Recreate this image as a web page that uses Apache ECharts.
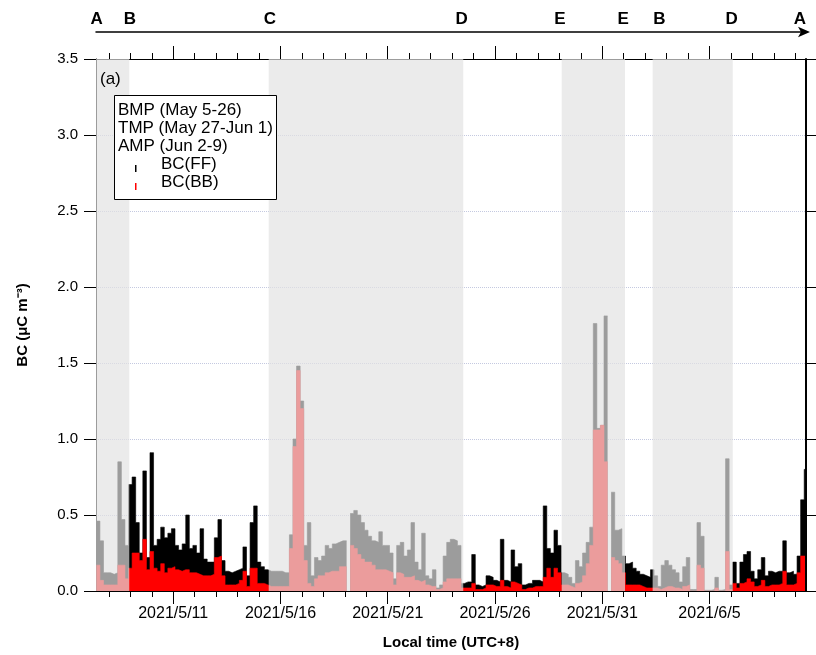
<!DOCTYPE html>
<html><head><meta charset="utf-8">
<script src="https://cdn.jsdelivr.net/npm/echarts@6/dist/echarts.min.js"></script>
<style>html,body{margin:0;padding:0;background:#fff}#c{width:816px;height:655px}</style>
</head><body><div id="c"></div>
<script>
// ---- data (4-hour values, starting 2021-05-07 10:00 local time) ----
const startTime = '2021-05-07T10:00';
const stepHours = 4;
// total BC (FF + BB); the black silhouette
const bcTotal = [
 0.46,0.33,0.12,0.12,0.11,0.12,0.85,0.47,0.30,0.70,
 0.75,0.45,0.25,0.79,0.22,0.91,0.30,0.34,0.42,0.35,
 0.38,0.41,0.30,0.27,0.31,0.50,0.28,0.30,0.25,0.41,
 0.21,0.19,0.19,0.35,0.47,0.20,0.13,0.12,0.13,0.14,
 0.15,0.29,0.10,0.45,0.56,0.19,0.16,0.14,0.13,0.13,
 0.13,0.13,0.12,0.12,0.37,1.00,1.48,1.25,0.30,0.45,
 0.10,0.22,0.20,0.23,0.30,0.28,0.31,0.32,0.33,0.33,
 null,0.51,0.53,0.50,0.45,0.40,0.36,0.33,0.32,0.39,
 0.30,0.30,0.25,0.08,0.30,0.32,0.23,0.27,0.45,0.19,
 0.14,0.38,0.10,0.08,0.14,0.02,0.04,0.23,0.32,0.34,
 0.33,0.30,0.05,0.06,0.06,0.24,0.04,0.03,0.04,0.10,
 0.09,0.07,0.06,0.34,0.07,0.06,0.27,0.16,0.18,0.04,
 0.05,0.05,0.07,0.07,0.06,0.56,0.28,0.25,0.40,0.30,
 0.12,0.11,0.09,0.05,0.20,0.16,0.25,0.32,0.42,1.76,
 1.07,1.09,1.81,null,0.65,0.40,0.41,0.23,0.18,0.19,
 0.15,0.13,0.11,0.10,0.09,0.14,0.10,0.03,0.17,0.20,
 0.17,0.14,0.12,0.06,0.16,0.22,0.01,0.01,0.45,0.36,
 0.005,0.005,0.01,0.09,0.005,0.01,0.87,0.04,0.19,0.05,
 0.19,0.24,0.26,0.13,0.08,0.14,0.22,0.10,0.13,0.12,
 0.13,0.13,0.33,0.12,0.13,0.11,0.23,0.60,0.80,0.80
];
// BC from biomass burning; the red part
const bcBB = [
 0.17,0.07,0.04,0.04,0.04,0.04,0.17,0.17,0.08,0.15,
 0.25,0.25,0.20,0.34,0.14,0.26,0.15,0.13,0.18,0.12,
 0.15,0.16,0.14,0.13,0.14,0.14,0.12,0.12,0.11,0.10,
 0.10,0.10,0.11,0.22,0.23,0.10,0.04,0.04,0.04,0.05,
 0.07,0.13,0.03,0.15,0.15,0.05,0.05,0.04,0.03,0.03,
 0.03,0.03,0.03,0.03,0.28,0.95,1.45,1.20,0.20,0.05,
 0.03,0.08,0.10,0.10,0.12,0.13,0.13,0.13,0.16,0.16,
 null,0.30,0.28,0.24,0.21,0.19,0.19,0.17,0.14,0.14,
 0.14,0.13,0.12,0.04,0.12,0.11,0.09,0.09,0.10,0.07,
 0.06,0.07,0.04,0.03,0.03,0.01,0.02,0.06,0.08,0.08,
 0.08,0.08,0.02,0.02,0.02,0.05,0.01,0.01,0.02,0.04,
 0.04,0.03,0.03,0.07,0.03,0.02,0.06,0.05,0.04,0.01,
 0.02,0.02,0.03,0.03,0.03,0.09,0.15,0.09,0.15,0.12,
 0.04,0.04,0.03,0.02,0.05,0.06,0.10,0.18,0.30,1.06,
 1.06,1.09,0.85,null,0.22,0.20,0.18,0.12,0.04,0.04,
 0.04,0.04,0.03,0.02,0.02,0.02,0.02,0.01,0.02,0.03,
 0.03,0.02,0.02,0.01,0.03,0.04,0.00,0.00,0.17,0.15,
 0.00,0.00,0.00,0.02,0.00,0.00,0.26,0.01,0.05,0.02,
 0.05,0.06,0.08,0.06,0.03,0.04,0.07,0.03,0.04,0.04,
 0.04,0.05,0.13,0.04,0.04,0.05,0.12,0.23,0.23,0.23
];
const xRange = ['2021-05-07T09:36', '2021-06-09T12:00'];
const firstDayTick = '2021-05-08', lastDayTick = '2021-06-09';
const majorTicks = ['2021-05-11','2021-05-16','2021-05-21','2021-05-26','2021-05-31','2021-06-05'];
const majorLabels = ['2021/5/11','2021/5/16','2021/5/21','2021/5/26','2021/5/31','2021/6/5'];
const shadedPeriods = [
 ['2021-05-07T09:36','2021-05-08T22:50'],
 ['2021-05-15T10:50','2021-05-24T12:30'],
 ['2021-05-29T02:40','2021-06-01T01:30'],
 ['2021-06-02T08:25','2021-06-06T02:00']
];
const letterTimes = ['2021-05-07T10:20','2021-05-08T23:30','2021-05-15T12:15','2021-05-24T10:50','2021-05-29T00:45','2021-05-31T23:30','2021-06-02T15:50','2021-06-06T00:45','2021-06-09T05:15'];
const letters = ['A','B','C','D','E','E','B','D','A'];
const yMin = 0, yMax = 3.5, yStep = 0.5;
const legendLines = ['BMP (May 5-26)','TMP (May 27-Jun 1)','AMP (Jun 2-9)'];

// ---- helpers ----
function ts(s){
  const [d,t] = s.split('T');
  const [Y,M,D] = d.split('-').map(Number);
  let h=0,m=0; if(t){[h,m]=t.split(':').map(Number);}
  return Date.UTC(Y,M-1,D,h,m);
}
const DAY = 86400000;
const t0 = ts(startTime);
const seriesTotal = bcTotal.map((v,i)=>[t0+i*stepHours*3600000, v]);
const seriesBB = bcBB.map((v,i)=>[t0+i*stepHours*3600000, v]);
const dayTicks = [];
for(let t=ts(firstDayTick); t<=ts(lastDayTick); t+=DAY) dayTicks.push(t);
const majorTs = majorTicks.map(ts);
const letterTs = letterTimes.map(ts);
const xmin = ts(xRange[0]), xmax = ts(xRange[1]);

const FONT = '"Liberation Sans", Arial, sans-serif';
const baseX = {type:'value', min:xmin, max:xmax, splitLine:{show:false}};

const chart = echarts.init(document.getElementById('c'), null, {renderer:'canvas'});
chart.setOption({
  animation:false,
  backgroundColor:'#fff',
  grid:{left:96, right:10, top:59, bottom:62, containLabel:false},
  xAxis:[
    Object.assign({}, baseX, {position:'bottom', z:20,
      axisLine:{show:true, onZero:false, lineStyle:{color:'#000', width:1}},
      axisTick:{show:true, customValues:dayTicks, length:6, lineStyle:{color:'#000'}},
      axisLabel:{show:true, customValues:majorTs, margin:15, fontSize:16, fontFamily:FONT, color:'#000',
        formatter:v=>{const k=majorTs.indexOf(v); return k>=0?majorLabels[k]:'';}},
      name:'Local time (UTC+8)', nameLocation:'middle', nameGap:44,
      nameTextStyle:{fontSize:15, fontWeight:'bold', fontFamily:FONT, color:'#000'}}),
    Object.assign({}, baseX, {position:'bottom', z:20,
      axisLine:{show:false, onZero:false},
      axisTick:{show:true, customValues:majorTs, length:13, lineStyle:{color:'#000'}},
      axisLabel:{show:false}}),
    Object.assign({}, baseX, {position:'top',
      axisLine:{show:true, onZero:false, lineStyle:{color:'#000', width:1}},
      axisTick:{show:true, customValues:dayTicks, length:6, lineStyle:{color:'#000'}},
      axisLabel:{show:false}}),
    Object.assign({}, baseX, {position:'top',
      axisLine:{show:false, onZero:false},
      axisTick:{show:true, customValues:majorTs, length:13, lineStyle:{color:'#000'}},
      axisLabel:{show:false}}),
    Object.assign({}, baseX, {position:'top', offset:27,
      axisLine:{show:true, onZero:false, symbol:['none','arrow'], symbolSize:[8,12], symbolOffset:[0,4],
        lineStyle:{color:'#000', width:1.5}},
      axisTick:{show:false},
      axisLabel:{show:true, customValues:letterTs, margin:4, fontSize:17, fontWeight:'bold', fontFamily:FONT, color:'#000',
        formatter:v=>{const k=letterTs.indexOf(v); return k>=0?letters[k]:'';}}})
  ],
  yAxis:[
    {type:'value', min:yMin, max:yMax, interval:yStep, position:'left',
      axisLine:{show:true, lineStyle:{color:'#000'}},
      axisTick:{show:true, length:12, lineStyle:{color:'#000'}},
      axisLabel:{fontSize:15, fontFamily:FONT, color:'#000', margin:18, formatter:v=>v.toFixed(1)},
      splitLine:{show:true, lineStyle:{type:'dotted', color:'#c4c9e0', width:1}},
      name:'BC (μC m⁻³)', nameLocation:'middle', nameGap:66, nameRotate:90,
      nameTextStyle:{fontSize:15, fontWeight:'bold', fontFamily:FONT, color:'#000'}},
    {type:'value', min:yMin, max:yMax, interval:yStep, position:'right', z:20,
      axisLine:{show:true, lineStyle:{color:'#000', width:2}},
      axisTick:{show:true, length:10, lineStyle:{color:'#000'}},
      axisLabel:{show:false}, splitLine:{show:false}}
  ],
  series:[
    {type:'line', name:'BC(FF)', data:seriesTotal, step:'end', symbol:'none', connectNulls:false,
      xAxisIndex:0, yAxisIndex:0, z:2,
      lineStyle:{color:'#000', width:0.6}, itemStyle:{color:'#000'}, areaStyle:{color:'#000', opacity:1}},
    {type:'line', name:'BC(BB)', data:seriesBB, step:'end', symbol:'none', connectNulls:false,
      xAxisIndex:0, yAxisIndex:0, z:3,
      lineStyle:{color:'#ff0000', width:0.6}, itemStyle:{color:'#ff0000'}, areaStyle:{color:'#ff0000', opacity:1}},
    {type:'custom', name:'shade', xAxisIndex:0, yAxisIndex:0, z:10, silent:true, clip:true,
      data: shadedPeriods.map(p=>[ts(p[0]), ts(p[1])]),
      encode:{x:[0,1]},
      renderItem:(params, api)=>{
        const a = api.coord([api.value(0), yMax]);
        const b = api.coord([api.value(1), yMin]);
        return {type:'rect', shape:{x:a[0], y:a[1], width:b[0]-a[0], height:b[1]-a[1]},
          style:{fill:'rgba(226,226,226,0.69)'}};
      }}
  ],
  graphic:[
    {type:'text', x:100, y:79, z:100, style:{text:'(a)', font:'17px '+FONT, fill:'#000', verticalAlign:'middle'}},
    {type:'rect', z:100, shape:{x:114.5, y:95.5, width:162, height:104}, style:{fill:'#fff', stroke:'#000', lineWidth:1}},
    {type:'text', x:118, y:110, z:101, style:{text:legendLines[0], font:'17px '+FONT, fill:'#000', verticalAlign:'middle'}},
    {type:'text', x:118, y:128, z:101, style:{text:legendLines[1], font:'17px '+FONT, fill:'#000', verticalAlign:'middle'}},
    {type:'text', x:118, y:146, z:101, style:{text:legendLines[2], font:'17px '+FONT, fill:'#000', verticalAlign:'middle'}},
    {type:'rect', z:101, shape:{x:135, y:165, width:1.5, height:7}, style:{fill:'#000'}},
    {type:'text', x:161, y:164, z:101, style:{text:'BC(FF)', font:'17px '+FONT, fill:'#000', verticalAlign:'middle'}},
    {type:'rect', z:101, shape:{x:135, y:183, width:1.5, height:7}, style:{fill:'#ff0000'}},
    {type:'text', x:161, y:182, z:101, style:{text:'BC(BB)', font:'17px '+FONT, fill:'#000', verticalAlign:'middle'}}
  ]
});
</script></body></html>
